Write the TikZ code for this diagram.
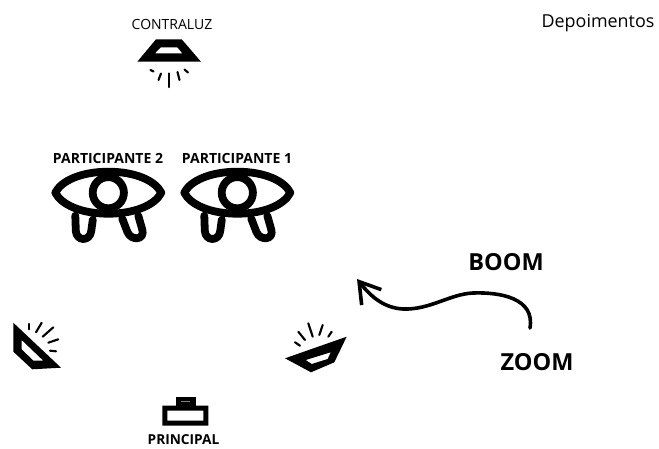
\documentclass[tikz,border=0pt]{standalone}
\usepackage{fontspec}
\setmainfont{Open Sans}
\usetikzlibrary{arrows.meta, positioning}
\definecolor{ink}{HTML}{000000}
\tikzset{
  labl/.style   = {font=\fontsize{14}{16}\selectfont, text=ink, inner sep=0pt},
  blabl/.style  = {font=\fontsize{14}{16}\selectfont\bfseries, text=ink, inner sep=0pt},
  move/.style   = {font=\fontsize{23.5}{28}\selectfont\bfseries, text=ink, inner sep=0pt},
  ray/.style    = {ink, line width=2.1pt, line cap=round},
  lamp/.style   = {fill=ink, even odd rule},
  eyeline/.style = {ink, line width=7.8pt, line cap=round, line join=round},
  arr/.style    = {-{Straight Barb[length=20pt,width=25pt,line width=3.6pt]}, ink,
                   line width=3.6pt, line cap=round},
  eyeicon/.pic  = {
    \draw[eyeline] (-53,0) .. controls (-47,-12) and (-27,-21) .. (0,-21)
      .. controls (27,-21) and (47,-12) .. (53,0)
      .. controls (47,12) and (27,21) .. (0,21)
      .. controls (-27,21) and (-47,12) .. cycle;
    \draw[eyeline] (0,0) circle [radius=15.6];
    \draw[eyeline]
      (-33,23) -- (-32.5,38) .. controls (-32,49) and (-18,49) .. (-17,38) -- (-15.5,27);
    \draw[eyeline]
      (14,26) -- (19,39) .. controls (23,49) and (37,47) .. (34,37) -- (30,23);
  },
}
\begin{document}
\begin{tikzpicture}[x=1pt, y=-1pt]
  \useasboundingbox (0,0) rectangle (659,449);

  % top labels
  \node[labl] (contraluz) at (172,24.5) {CONTRALUZ};
  \node[font=\fontsize{17.9}{22}\selectfont, text=ink, inner sep=0pt] (depoimentos) at (598,23) {Depoimentos};

  % back light
  \fill[lamp] (137.3,61.7) -- (201,61.7) -- (181.7,39.3) -- (156,39.3) -- cycle
              (155,53.3) -- (182.3,53.3) -- (177.3,47.3) -- (160.7,47.3) -- cycle;
  \draw[ray] (150.5,70) -- (153.5,71.5);
  \draw[ray] (158.5,80) -- (161,73.5);
  \draw[ray] (169.3,73.5) -- (169.3,87);
  \draw[ray] (179.5,80) -- (177.5,72);
  \draw[ray] (188,72.5) -- (184.5,69.5);

  % participants
  \node[blabl] (part2) at (108,158.5) {PARTICIPANTE 2};
  \node[blabl] (part1) at (237,158.5) {PARTICIPANTE 1};
  \pic at (108.3,192.7) {eyeicon};
  \pic at (237.3,192.7) {eyeicon};

  % left light
  \fill[lamp] (13.3,322.7) -- (61,367.7) -- (32.3,369.3) -- (13.3,351.7) -- cycle
              (21.7,340) -- (43.3,360.7) -- (33.3,360.7) -- (21.7,349.3) -- cycle;
  \draw[ray] (29,324) -- (29,329.3);
  \draw[ray] (41.7,322.7) -- (36,332.3);
  \draw[ray] (53.3,327.3) -- (42.7,336.7);
  \draw[ray] (58.3,339.3) -- (48.3,342.7);
  \draw[ray] (56,351.3) -- (50,350.7);

  % right light
  \fill[lamp] (346.7,336.7) -- (285,358.3) -- (311,372.3) -- (334.3,362.3) -- cycle
              (330.7,352.3) -- (305.7,360) -- (311.7,364) -- (327.7,359) -- cycle;
  \draw[ray] (295,342.3) -- (300,345.7);
  \draw[ray] (298.3,331.7) -- (305,340);
  \draw[ray] (308.3,323.3) -- (312.7,336.7);
  \draw[ray] (322.7,325) -- (319.3,335);
  \draw[ray] (331.7,331.7) -- (328.3,336.7);

  % main light
  \fill[lamp] (162.3,405.7) rectangle (208.3,425.7)
              (167.3,410.7) rectangle (203.3,420.7);
  \fill[ink] (175.7,396.7) rectangle (195.7,405.9);
  \draw[gray, line width=0.8pt] (181,401.7) -- (190,401.7);
  \node[blabl, font=\fontsize{13.7}{16}\selectfont\bfseries] (principal) at (183.5,439.5) {PRINCIPAL};

  % camera moves
  \node[move] (boom) at (506,262) {BOOM};
  \node[move] (zoom) at (537,362.5) {ZOOM};
  \coordinate (arrstart) at (530,328);
  \coordinate (arrend) at (357,279);
  \draw[arr] (arrstart) .. controls (535,298) and (500,292) .. (473,293)
    .. controls (450,294) and (430,310) .. (403,309)
    .. controls (385,308) and (372,298) .. (arrend);

\end{tikzpicture}
\end{document}
